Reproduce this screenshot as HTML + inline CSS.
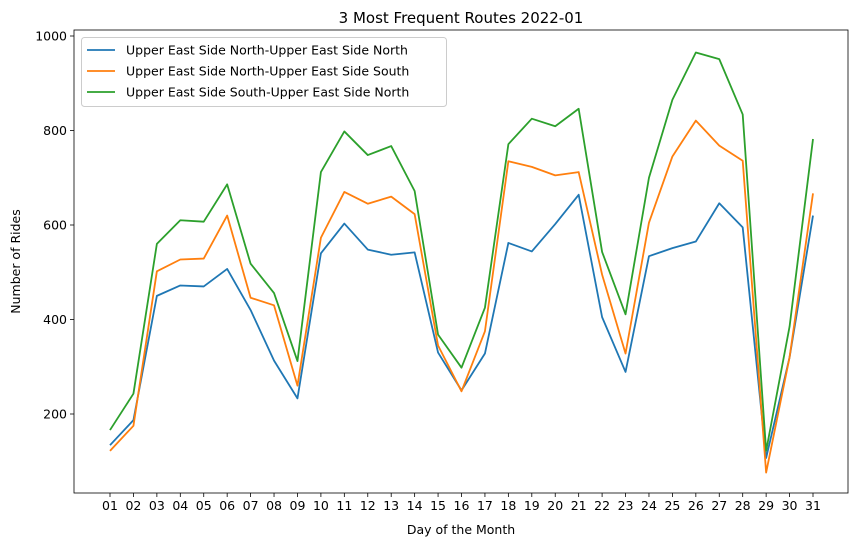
<!DOCTYPE html>
<html><head><meta charset="utf-8"><style>
body{margin:0;background:#fff;font-family:"Liberation Sans","DejaVu Sans",sans-serif;}
svg text{font-family:"DejaVu Sans","Liberation Sans",sans-serif;}
</style></head><body>
<svg id="chart" width="859" height="547" xmlns="http://www.w3.org/2000/svg"></svg>
<script>
const days = ["01","02","03","04","05","06","07","08","09","10","11","12","13","14","15","16","17","18","19","20","21","22","23","24","25","26","27","28","29","30","31"];
const seriesNN = [134,187,450,472,470,507,420,313,233,540,603,548,537,542,330,250,328,562,544,602,664,405,289,534,551,565,646,595,107,320,620];
const seriesNS = [122,175,502,527,529,620,446,430,260,573,670,645,660,623,345,248,375,735,723,705,712,495,328,605,745,821,768,736,76,320,667];
const seriesSN = [166,243,560,610,607,686,518,456,312,712,798,748,767,672,368,298,425,771,825,809,846,543,411,700,865,965,951,834,122,385,782];
const yTicks = [200,400,600,800,1000];
const seriesNames = ["Upper East Side North-Upper East Side North","Upper East Side North-Upper East Side South","Upper East Side South-Upper East Side North"];
const colors = ["#1f77b4","#ff7f0e","#2ca02c"];

const svg = document.getElementById('chart');
const NS = "http://www.w3.org/2000/svg";
const L=74,R=848,T=30,B=493;
const x = i => 110 + i*(813-110)/(days.length-1);
const y = v => 414 - (v-200)*0.4725;
function mk(tag, attrs, parent){const e=document.createElementNS(NS,tag);for(const k in attrs)e.setAttribute(k,attrs[k]);(parent||svg).appendChild(e);return e;}

const title = mk('text',{x:(L+R)/2,y:23,'text-anchor':'middle','font-size':'15'});
title.textContent = "3 Most Frequent Routes 2022-01";



const xg = mk('g',{});


days.forEach((d,i)=>{
  mk('line',{x1:x(i),x2:x(i),y1:B,y2:B+4,stroke:'#000','stroke-width':0.8},xg);
  const t = mk('text',{x:x(i),y:B+17,'text-anchor':'middle','font-size':'12.5'},xg);
  t.textContent = d;
  
  
});
const xt = mk('text',{x:(L+R)/2,y:534,'text-anchor':'middle','font-size':'12.5'});
xt.textContent = "Day of the Month";



const yg = mk('g',{});


yTicks.forEach(v=>{
  mk('line',{x1:L-4,x2:L,y1:y(v),y2:y(v),stroke:'#000','stroke-width':0.8},yg);
  const t = mk('text',{x:L-7,y:y(v)+4.5,'text-anchor':'end','font-size':'12.5'},yg);
  t.textContent = v;
  
  
});
const yt = mk('text',{x:20,y:(T+B)/2,'text-anchor':'middle','font-size':'12.5',transform:`rotate(-90 20 ${(T+B)/2})`});
yt.textContent = "Number of Rides";



[seriesNN,seriesNS,seriesSN].forEach((s,k)=>{
  const p = mk('polyline',{points:s.map((v,i)=>x(i)+','+y(v)).join(' '),fill:'none',stroke:colors[k],'stroke-width':1.8,'stroke-linejoin':'round'});
  
  
});

const frame = mk('rect',{x:L,y:T,width:R-L,height:B-T,fill:'none',stroke:'#000','stroke-width':0.8});



const lg = mk('g',{});


mk('rect',{x:81.5,y:37.5,width:365,height:69,rx:3,fill:'#fff','fill-opacity':0.8,stroke:'#ccc'},lg);
seriesNames.forEach((n,k)=>{
  const yy = 50 + k*21;
  const e = mk('g',{},lg);
  
  
  mk('line',{x1:87,x2:115,y1:yy,y2:yy,stroke:colors[k],'stroke-width':1.8},e);
  const t = mk('text',{x:126,y:yy+4.5,'font-size':'12.5'},e);
  t.textContent = n;
});
</script>
</body></html>
